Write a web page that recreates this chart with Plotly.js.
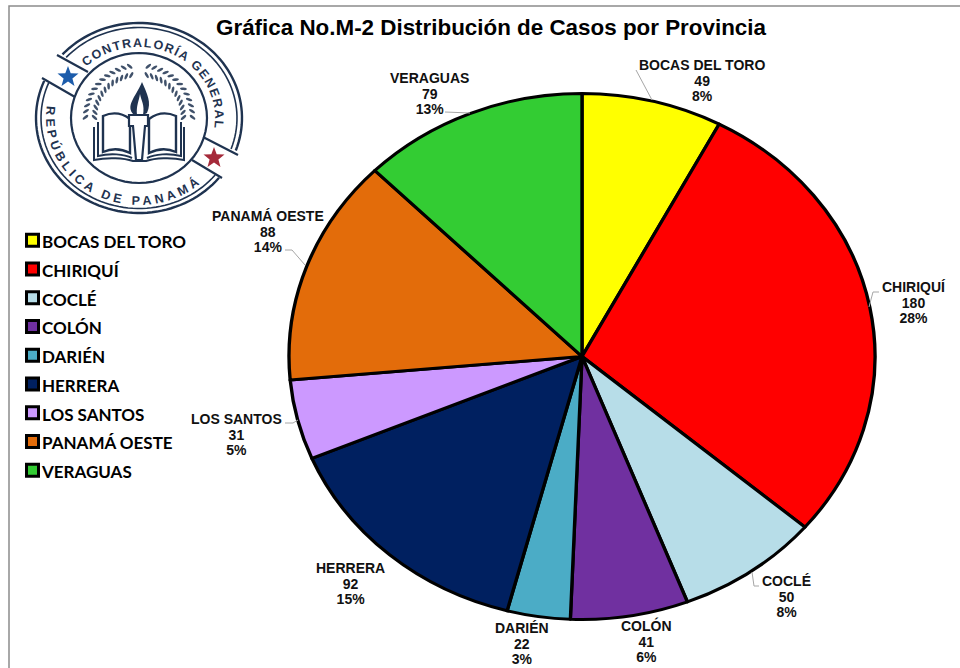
<!DOCTYPE html>
<html><head><meta charset="utf-8">
<script src="https://cdn.plot.ly/plotly-3.0.1.min.js"></script>
<style>html,body{margin:0;padding:0;background:#fff}#c{position:absolute;left:0;top:0;width:960px;height:668px}#logo{position:absolute;left:0;top:0;width:260px;height:230px;overflow:visible;pointer-events:none}</style>
</head><body>
<div id="c"></div>
<svg id="logo" viewBox="0 0 260 230" xmlns="http://www.w3.org/2000/svg"></svg>
<script>
var provinces = ['BOCAS DEL TORO','CHIRIQUÍ','COCLÉ','COLÓN','DARIÉN','HERRERA','LOS SANTOS','PANAMÁ OESTE','VERAGUAS'];
var cases = [49,180,50,41,22,92,31,88,79];
var percents = ['8%','28%','8%','6%','3%','15%','5%','14%','13%'];
var colors = ['#ffff00','#ff0000','#b7dde8','#7030a0','#4bacc6','#002060','#cc99ff','#e36c0a','#33cc33'];
var titleText = 'Gráfica No.M-2 Distribución de Casos por Provincia';

var W=960,H=668,cx=582,cy=356.5,ry=263,rx=293;
var labelCentres=[[702,83],[914,305],[786,599],[646,643],[522,646],[350,586],[236,437],[268,234],[429,96]];
var leaders=[[[636,70],[652,100]],[[879,292],[873,292],[869,307]],[[752,572],[754,586],[759,586]],[[285,423],[293,423],[298,420]],[[285,250],[292,250],[305,265]],[[445,112],[470,113]]];
function px(x){return x/W} function py(y){return 1-y/H}
var annotations=provinces.map(function(p,i){return {
 xref:'paper',yref:'paper',x:px(labelCentres[i][0]),y:py(labelCentres[i][1]),xanchor:'center',yanchor:'middle',showarrow:false,
 text:p+'<br>'+cases[i]+'<br>'+percents[i],align:'center',
 font:{family:'Liberation Sans',size:14,weight:700,color:'#111'}
}});
var shapes=[{type:'path',xref:'paper',yref:'paper',path:'M'+px(960)+','+py(6)+'L'+px(9)+','+py(6)+'L'+px(9)+','+py(668),line:{color:'#8c8c8c',width:1.5}}];
leaders.forEach(function(l){
 shapes.push({type:'path',xref:'paper',yref:'paper',path:l.map(function(q,i){return (i?'L':'M')+px(q[0])+','+py(q[1])}).join(''),line:{color:'#a6a6a6',width:1}});
});
var data=[{type:'pie',labels:provinces,values:cases,sort:false,direction:'clockwise',rotation:0,textinfo:'none',
 marker:{colors:colors,line:{color:'#000',width:3}},
 domain:{x:[(cx-ry)/W,(cx+ry)/W],y:[(H-cy-ry)/H,(H-cy+ry)/H]},hoverinfo:'label+value+percent'}];
var layout={width:W,height:H,margin:{l:0,r:0,t:0,b:0,pad:0},paper_bgcolor:'#fff',plot_bgcolor:'#fff',showlegend:true,
 title:{text:titleText,x:px(491),xref:'paper',xanchor:'center',y:py(27),yref:'paper',yanchor:'middle',font:{family:'Liberation Sans',size:22.4,weight:700,color:'#000'}},
 legend:{x:px(2),xanchor:'left',y:py(221),yanchor:'top',bgcolor:'rgba(0,0,0,0)',traceorder:'normal',itemclick:false,itemdoubleclick:false,
  itemwidth:30,font:{family:'Lato',size:19.8,weight:700,color:'#000'},borderwidth:0},
 annotations:annotations,shapes:shapes};

// seal drawn beside the chart
function drawLogo(){
 var svg=document.getElementById('logo'),ns='http://www.w3.org/2000/svg',C=[139,118],ink='#1f3350';
 function el(n,a,p){var e=document.createElementNS(ns,n);for(var k in a)e.setAttribute(k,a[k]);(p||svg).appendChild(e);return e}
 function pt(a,rxx,ryy){var t=a*Math.PI/180;return [C[0]+rxx*Math.cos(t),C[1]-ryy*Math.sin(t)]}
 function arc(a0,a1,rxx,ryy){var d='';var n=60;for(var i=0;i<=n;i++){var q=pt(a0+(a1-a0)*i/n,rxx,ryy);d+=(i?'L':'M')+q[0].toFixed(2)+' '+q[1].toFixed(2)}return d}
 function line(d,w){return el('path',{d:d,fill:'none',stroke:ink,'stroke-width':w})}
 line(arc(138,-20,103,95),2.4);line(arc(138,-20,98,90.5),1.6);
 line(arc(157,321,103,95),2.4);line(arc(157,321,98,90.5),1.6);
 line(arc(0,360,68,65),2.2);
 line('M57 55L88 72M42 78L75 97M203 137L238 155M192 160L222 178',2.2);
 el('path',{id:'arcT',d:arc(134,-8,76,71),fill:'none'});
 el('path',{id:'arcB',d:arc(172,311,93,87),fill:'none'});
 [['arcT','CONTRALORÍA GENERAL'],['arcB','REPÚBLICA DE PANAMÁ']].forEach(function(t){
  var len=document.getElementById(t[0]).getTotalLength();
  var tx=el('text',{'font-family':'Liberation Sans','font-weight':700,'font-size':12.5,fill:ink,textLength:len.toFixed(0),lengthAdjust:'spacing'});
  var tp=el('textPath',{href:'#'+t[0]},tx);tp.textContent=t[1];
 });
 // book
 line('M103 116C112 112 122 113 130 119V153C122 149 112 148 103 152ZM176 116C167 112 157 113 149 119V153C157 149 167 148 176 152Z',2.4);
 line('M98 122V156C110 153 124 154 132 158M181 122V156C169 153 155 154 147 158',2);
 line('M94 127V160C108 157 124 158 133 161H146C155 158 171 157 184 160V127',2);
 // torch
 el('path',{d:'M129 115H148V126H145L142 160H136L133 126H129Z',fill:'#fff',stroke:ink,'stroke-width':2.2});
 el('path',{d:'M142 82C147 94 152 102 147 113L143 115C145 105 141 100 140 94C139 101 136 106 137 115H134C125 106 135 98 142 82Z',fill:ink});
 // wreath
 for(var s=-1;s<=1;s+=2){
  for(var i=0;i<13;i++){
   var a=(s<0?100+i*6.6:80-i*6.6),p=pt(a,49,48);
   [14,-14].forEach(function(off){
    var q=[p[0]+off*0.32*Math.cos(a*Math.PI/180),p[1]-off*0.32*Math.sin(a*Math.PI/180)];
    el('ellipse',{cx:q[0].toFixed(1),cy:q[1].toFixed(1),rx:3.4,ry:1.3,fill:ink,opacity:.85,
     transform:'rotate('+(-(a+(s<0?1:-1)*(off>0?-50:50)+90)).toFixed(0)+' '+q[0].toFixed(1)+' '+q[1].toFixed(1)+')'});
   });
  }
 }
 function star(x,y,r,c){var d='';for(var i=0;i<10;i++){var R=i%2?r*0.42:r,t=(-90+i*36)*Math.PI/180;d+=(i?'L':'M')+(x+R*Math.cos(t)).toFixed(1)+' '+(y+R*Math.sin(t)).toFixed(1)}el('path',{d:d+'Z',fill:c})}
 star(68,77,11,'#1c5cab');star(214,158,11,'#a52a3a');
}
Plotly.newPlot('c',data,layout,{displayModeBar:false}).then(function(){
 var gd=document.getElementById('c');
 gd.querySelectorAll('.pielayer').forEach(function(g){
  g.setAttribute('transform','translate('+cx+','+cy+') scale('+(rx/ry)+',1) translate('+(-cx)+','+(-cy)+')');
 });
 gd.querySelectorAll('.legend .traces text').forEach(function(t){t.style.fontSize='17px';});
 gd.querySelectorAll('.legend .legendpoints').forEach(function(t){t.setAttribute('transform','translate(10.5,0)');});
 gd.querySelectorAll('.annotation-text tspan.line').forEach(function(t){
  var n=parseFloat(t.getAttribute('dy'))/1.3; t.setAttribute('dy',(n*15.5)+'px');
 });
 drawLogo();
});
</script>
</body></html>
